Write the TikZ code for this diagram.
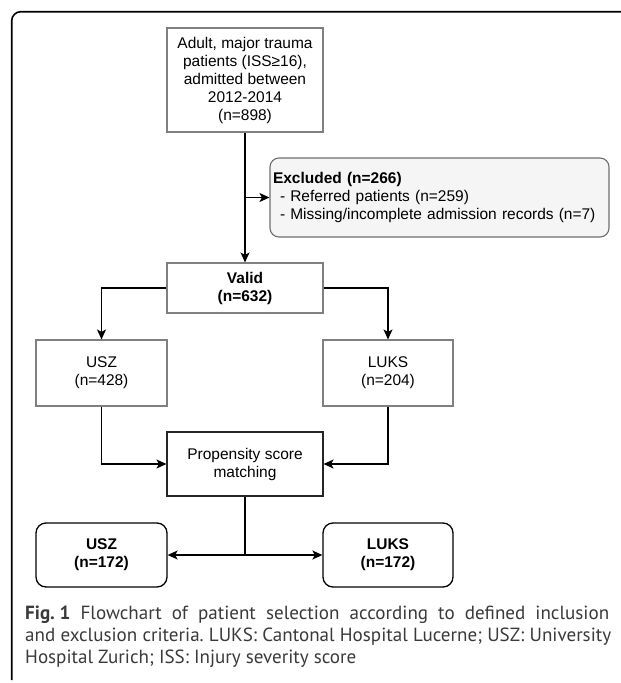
\documentclass[tikz,border=0pt]{standalone}
\usepackage{fontspec}
\setmainfont{Liberation Sans}
\newfontfamily\capfont{PT Sans}
\usetikzlibrary{arrows.meta}
\definecolor{graybd}{HTML}{808080}
\definecolor{exfill}{HTML}{F5F5F5}
\definecolor{exbd}{HTML}{6E6E6E}
\definecolor{captxt}{HTML}{3A3A3A}
\newlength\calw
\newlength\capcalw
\newlength\capcalwb
\newcommand\capA{\textbf{\mbox{Fig.\ 1}} Flowchart of patient selection according to defined inclusion}
\newcommand\capB{and exclusion criteria.\ LUKS: Cantonal Hospital Lucerne; USZ: University}
\newcommand\capC{Hospital Zurich; ISS: Injury severity score}
\begin{document}
\frenchspacing
% calibrate font sizes against measured text widths of the reference
\settowidth\calw{\fontsize{10}{12}\selectfont - Missing/incomplete admission records (n=7)}%
\pgfmathsetmacro\boxsize{10*312/\calw}%
\settowidth\capcalw{\capfont\fontsize{10}{12}\selectfont\capA}%
\settowidth\capcalwb{\capfont\fontsize{10}{12}\selectfont\capB}%
\pgfmathsetmacro\capsize{min(10*585/\capcalw,10*585/\capcalwb)}%
\begin{tikzpicture}[x=1pt,y=-1pt,
  boxfont/.style={font=\fontsize{\boxsize}{18}\selectfont},
  graybox/.style={boxfont,draw=graybd,line width=1.1pt,align=center,inner sep=0pt},
  darkbox/.style={boxfont,draw=black!85,line width=1.1pt,align=center,inner sep=0pt},
  finalbox/.style={boxfont,draw=black,line width=1.3pt,rounded corners=10pt,align=center,inner sep=0pt,
    minimum width=131pt,minimum height=64pt},
  exbox/.style={boxfont,draw=exbd,fill=exfill,line width=1.1pt,rounded corners=9pt,
    text width=333pt,align=left,inner xsep=3pt,inner ysep=0pt,minimum height=79pt},
  conn/.style={line width=1.3pt,draw=black},
  arr/.style={conn,-{Stealth[length=10pt,width=9pt,inset=2.5pt]}},
  capline/.style={anchor=base west,inner sep=0pt,text=captxt,font=\capfont\fontsize{\capsize}{22}\selectfont\frenchspacing}]
\useasboundingbox (0,0) rectangle (621,683);
% frame
\draw[line width=1.6pt,rounded corners=9pt] (621,11.7) -- (11.7,11.7) -- (11.7,680);
% nodes
\node[graybox,minimum width=156pt,minimum height=104pt] (top) at (245,80)
  {Adult, major trauma\\patients (ISS≥16),\\admitted between\\2012-2014\\(n=898)};
\node[exbox] (excl) at (439.5,197.5)
  {\textbf{Excluded (n=266)}\\\hspace*{7pt}- Referred patients (n=259)\\\hspace*{7pt}- Missing/incomplete admission records (n=7)};
\node[graybox,minimum width=156pt,minimum height=50pt] (valid) at (245,288)
  {\textbf{Valid}\\\textbf{(n=632)}};
\node[graybox,minimum width=131pt,minimum height=66pt] (usz1) at (101.5,373)
  {USZ\\(n=428)};
\node[graybox,minimum width=130pt,minimum height=66pt] (luks1) at (388,373)
  {LUKS\\(n=204)};
\node[darkbox,minimum width=156pt,minimum height=64pt] (prop) at (245,464)
  {Propensity score\\matching};
\node[finalbox] (usz2) at (101.5,555) {\textbf{USZ}\\\textbf{(n=172)}};
\node[finalbox,minimum width=130pt] (luks2) at (388,555) {\textbf{LUKS}\\\textbf{(n=172)}};
% connectors
\coordinate (ex) at (top.south |- excl.west);
\draw[arr] (top.south) -- (valid.north);
\draw[arr] (ex) -- (excl.west);
\draw[arr] (valid.west) -| (usz1.north);
\draw[arr] (valid.east) -| (luks1.north);
\draw[arr] (usz1.south) |- (prop.west);
\draw[arr] (luks1.south) |- (prop.east);
\coordinate (j) at (prop.south |- usz2.east);
\draw[conn] (prop.south) -- (j);
\draw[arr] (j) -- (usz2.east);
\draw[arr] (j) -- (luks2.west);
% caption (justified lines)
\node[capline] (cap1) at (25,619) {\hbox to 584pt{\capA}};
\node[capline] (cap2) at (25,641) {\hbox to 586pt{\capB}};
\node[capline] (cap3) at (25,663) {\capC};
\end{tikzpicture}
\end{document}
